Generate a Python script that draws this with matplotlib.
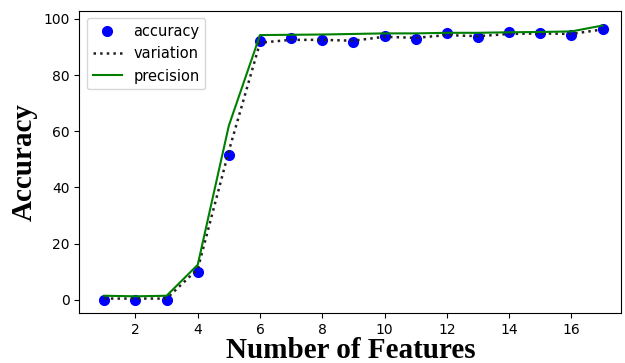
import matplotlib
matplotlib.use('Agg')
import matplotlib.pyplot as plt

features = list(range(1, 18))
accuracy = [0, 0, 0, 10, 51.5, 92, 93, 92.3, 91.9, 94, 92.9, 95, 93.4, 95.4, 94.8, 94.3, 96.4]
variation = [0.5, 0.5, 0.5, 11, 53, 91.5, 92.5, 92.5, 92.2, 93.6, 93.2, 94.2, 93.8, 94.6, 94.8, 94.6, 96.2]
precision = [1.5, 1.3, 1.5, 12.5, 62, 94.2, 94.3, 94.4, 94.6, 94.8, 94.8, 95, 95, 95.2, 95.3, 95.5, 97.6]

fig, ax = plt.subplots(figsize=(6.25, 3.63), dpi=100)
ax.plot(features, accuracy, 'o', color='blue', markersize=7, label='accuracy')
ax.plot(features, variation, ':', color='#222222', linewidth=1.8, label='variation')
ax.plot(features, precision, '-', color='green', linewidth=1.5, label='precision')

ax.set_xticks([2, 4, 6, 8, 10, 12, 14, 16])
ax.set_yticks([0, 20, 40, 60, 80, 100])
ax.set_xlim(0.2, 17.6)
ax.set_ylim(-4.6, 102.8)
ax.tick_params(labelsize=10)
ax.set_xlabel('Number of Features', fontsize=21, fontweight='bold', family='Liberation Serif', labelpad=0)
ax.set_ylabel('Accuracy', fontsize=21, fontweight='bold', family='Liberation Serif', labelpad=4)
ax.legend(loc='upper left', fontsize=10.5)

fig.subplots_adjust(left=0.127, right=0.994, top=0.97, bottom=0.138)
fig.savefig('out.png')
